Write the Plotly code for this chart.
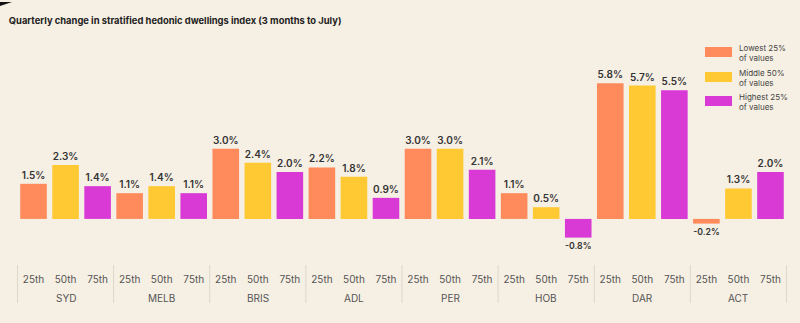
import plotly.graph_objects as go

cities = ["SYD", "MELB", "BRIS", "ADL", "PER", "HOB", "DAR", "ACT"]
percentiles = ["25th", "50th", "75th"]
series_names = ["Lowest 25%<br>of values", "Middle 50%<br>of values", "Highest 25%<br>of values"]
lowest = [1.5, 1.1, 3.0, 2.2, 3.0, 1.1, 5.8, -0.2]
middle = [2.3, 1.4, 2.4, 1.8, 3.0, 0.5, 5.7, 1.3]
highest = [1.4, 1.1, 2.0, 0.9, 2.1, -0.8, 5.5, 2.0]
colors = ["#FF8A5C", "#FFC933", "#D93AD6"]

BG = "#F6EFE3"
FONT = "Inter, Open Sans, sans-serif"
PLOT_H = 230.0  # plot area height in px (for paper-coordinate conversion)

all_cats = [f"{c} {p}" for c in cities for p in percentiles]

fig = go.Figure()
for i, (name, vals) in enumerate(zip(series_names, [lowest, middle, highest])):
    fig.add_trace(go.Bar(
        x=[f"{c} {percentiles[i]}" for c in cities],
        y=vals,
        name=name,
        marker=dict(color=colors[i], line=dict(width=0)),
        width=0.83,
        text=[f"{v:.1f}%" for v in vals],
        textposition="outside",
        cliponaxis=False,
        textfont=dict(family=FONT, size=10, color="#333333", weight=600),
        showlegend=False,
    ))

fig.update_layout(
    width=800, height=323,
    paper_bgcolor=BG, plot_bgcolor=BG,
    margin=dict(l=17, r=13, t=35, b=58),
    barmode="overlay",
    showlegend=False,
    title=dict(text="<b>Quarterly change in stratified hedonic dwellings index (3 months to July)</b>",
               x=0.011, xanchor="left", y=0.937, yanchor="middle",
               font=dict(family=FONT, size=9.4, color="#222222")),
    font=dict(family=FONT),
)
fig.update_xaxes(
    type="category",
    categoryorder="array", categoryarray=all_cats,
    tickmode="array", tickvals=all_cats,
    ticktext=[p for _ in cities for p in percentiles],
    showgrid=False, zeroline=False, showline=False,
    ticks="outside", ticklen=5, tickcolor="rgba(0,0,0,0)",
    tickfont=dict(size=10, color="#555555", family=FONT),
)
fig.update_yaxes(
    range=[-1.97, 7.86], visible=False, showgrid=False,
    zeroline=True, zerolinecolor="#E4DED2", zerolinewidth=1,
)

# group labels and dividers
n = len(percentiles)
for k, c in enumerate(cities):
    fig.add_annotation(x=f"{c} {percentiles[1]}", xref="x", y=-33 / PLOT_H, yref="paper",
                       text=c, showarrow=False, yanchor="middle",
                       font=dict(size=10, color="#555555", family=FONT))
for k in range(len(cities) + 1):
    fig.add_shape(type="line", xref="x", yref="paper",
                  x0=k * n - 0.5, x1=k * n - 0.5, y0=0, y1=-38 / PLOT_H,
                  line=dict(color="#DDD6CA", width=1))

# legend (drawn manually for wide swatches)
legend_y = [52, 77, 101]
for name, col, py in zip(series_names, colors, legend_y):
    fig.add_shape(type="rect", xref="paper", yref="paper",
                  x0=(705 - 17) / 770, x1=(732 - 17) / 770,
                  y0=(265 - py - 5) / PLOT_H, y1=(265 - py + 5) / PLOT_H,
                  fillcolor=col, line=dict(width=0))
    fig.add_annotation(xref="paper", yref="paper", x=(737 - 17) / 770, y=(265 - py - 1) / PLOT_H,
                       text=name, showarrow=False, xanchor="left", yanchor="middle", align="left",
                       font=dict(size=8, color="#444444", family=FONT))

# corner mark
fig.add_shape(type="path", xref="paper", yref="paper",
              path=f"M {-17/770} {263/PLOT_H} L {-5/770} {263/PLOT_H} L {-17/770} {259/PLOT_H} Z",
              fillcolor="#111111", line=dict(width=0))

fig.write_html("out.html")
